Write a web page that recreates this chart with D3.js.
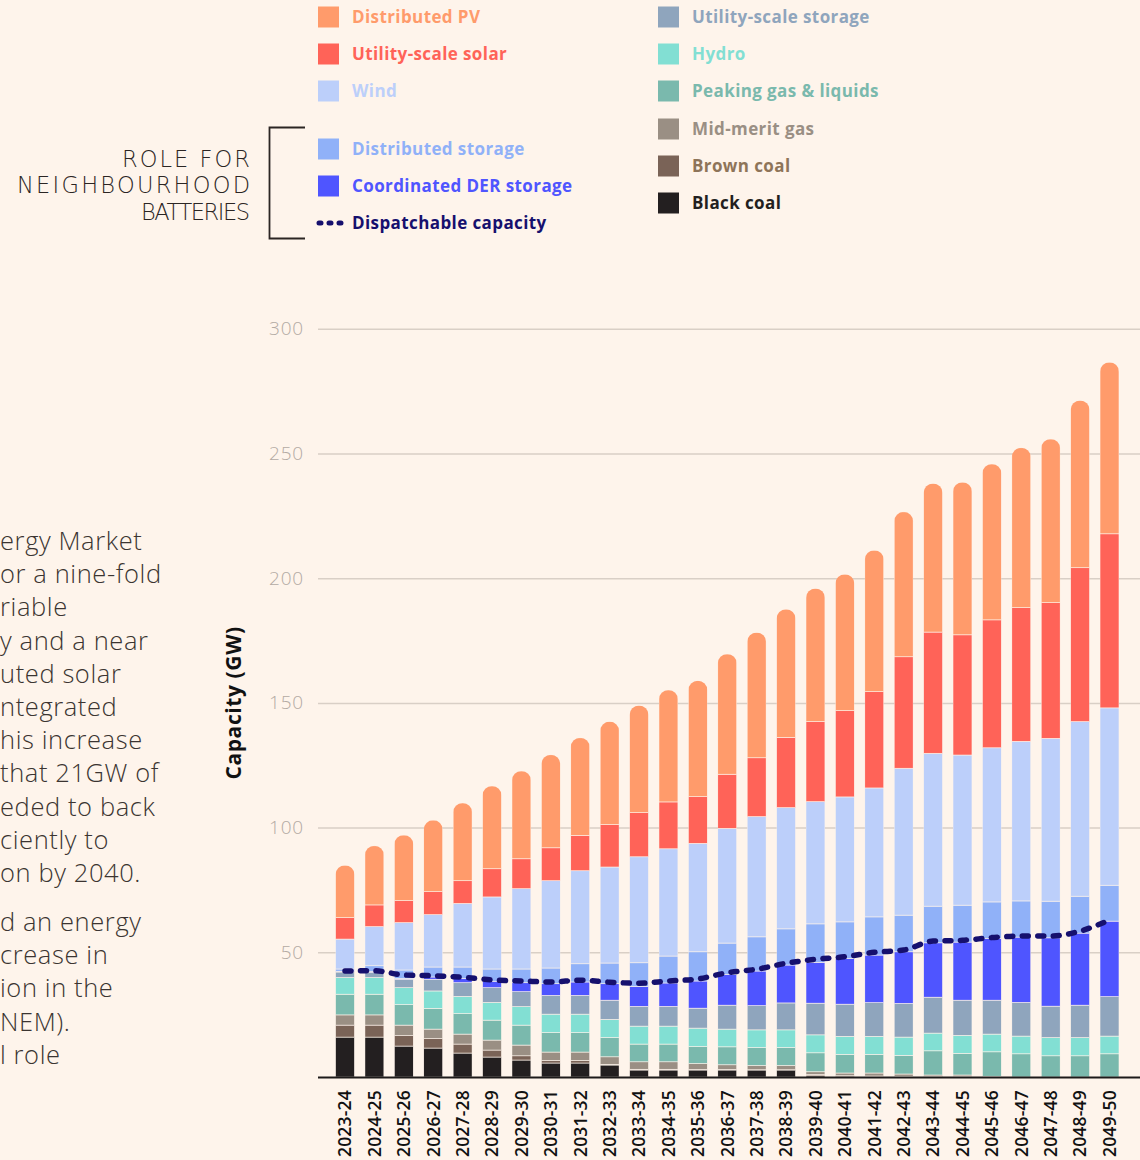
<!DOCTYPE html>
<html>
<head>
<meta charset="utf-8">
<script src="https://cdn.jsdelivr.net/npm/d3@7"></script>
<style>
  body { margin: 0; background: #fef4eb; }
  svg { display: block; }
</style>
</head>
<body>
<svg id="drawing_region"></svg>
<script>
// ---- data (GW) ----
const years = ["2023-24","2024-25","2025-26","2026-27","2027-28","2028-29","2029-30","2030-31","2031-32",
  "2032-33","2033-34","2034-35","2035-36","2036-37","2037-38","2038-39","2039-40","2040-41","2041-42",
  "2042-43","2043-44","2044-45","2045-46","2046-47","2047-48","2048-49","2049-50"];

const blackCoal   = [16.0,16.0,12.4,11.6,9.6,8.0,6.8,5.6,5.6,4.8,2.8,2.8,2.8,2.8,2.8,2.8,0.5,0.1,0.1,0.1,0.1,0.1,0,0,0,0,0];
const brownCoal   = [4.8,4.8,4.2,3.8,3.6,2.8,1.7,1.1,1.1,0.3,0.3,0.3,0.2,0.2,0.1,0.1,0.5,0.4,0.3,0.2,0.1,0.1,0,0,0,0,0];
const midMerit    = [4.1,4.1,4.2,3.8,4.0,4.0,4.3,3.3,3.3,3.0,3.0,3.0,2.4,1.9,1.7,1.7,1.1,1.1,1.2,0.9,0.6,0.6,0.3,0,0,0,0];
const peakingGas  = [8.3,8.3,8.2,8.3,8.2,8.0,8.0,7.8,7.8,7.7,7.1,7.1,6.8,7.2,7.2,7.2,7.6,7.5,7.5,7.5,9.7,8.7,9.8,9.3,8.5,8.5,9.3];
const hydro       = [6.7,6.7,6.8,7.0,6.9,7.1,7.4,7.4,7.4,7.3,7.2,7.2,7.4,7.1,7.1,7.1,7.2,7.2,7.2,7.3,7.1,7.2,7.1,7.1,7.3,7.3,7.1];
const utilStorage = [2.2,2.1,3.4,4.7,5.5,5.9,6.0,7.5,7.5,7.7,7.9,7.9,8.0,9.6,9.7,10.8,12.7,12.9,13.5,13.5,14.4,14.1,13.6,13.5,12.6,13.0,15.8];
const coordDER    = [0.3,0.3,0.3,0.9,1.7,2.6,3.6,4.7,5.4,6.6,8.0,9.4,10.9,12.3,13.9,15.2,16.4,18.3,19.1,20.7,21.8,23.3,24.7,26.2,27.4,28.9,30.3];
const distStorage = [0.9,2.3,3.4,4.0,4.6,4.9,5.5,6.3,7.3,8.3,9.5,10.8,11.7,12.6,13.7,14.5,15.4,14.7,15.3,14.7,14.7,14.8,14.7,14.5,14.7,14.8,14.4];
const wind        = [12.0,15.7,19.0,21.0,25.5,28.9,32.2,35.0,37.3,38.5,42.5,43.0,43.5,46.0,48.2,48.6,49.0,50.1,51.7,58.9,61.3,60.2,61.8,64.0,65.3,70.0,71.1];
const utilSolar   = [8.6,8.7,8.8,9.2,9.1,11.3,12.0,13.2,14.2,17.0,17.7,18.8,18.7,21.7,23.6,28.2,32.1,34.6,38.6,44.7,48.6,48.2,51.3,53.6,54.4,61.7,69.8];
const distPV      = [21.0,23.7,26.3,28.7,31.2,33.2,35.2,37.3,39.1,41.3,43.0,44.9,46.5,48.2,50.2,51.4,53.4,54.7,56.7,58.1,59.6,61.2,62.5,64.1,65.6,67.1,68.8];
const dispatchable = [42.5,42.6,40.9,40.6,40.0,38.9,38.5,38.1,38.8,38.0,37.6,38.5,39.3,41.8,43.2,45.6,47.2,48.2,50.0,50.9,54.5,54.8,55.9,56.5,56.5,58.5,62.9];

const yTicks = [50, 100, 150, 200, 250, 300];

const seriesKeys = ["blackCoal","brownCoal","midMerit","peakingGas","hydro","utilStorage","coordDER","distStorage","wind","utilSolar","distPV"];
const seriesValues = { blackCoal, brownCoal, midMerit, peakingGas, hydro, utilStorage, coordDER, distStorage, wind, utilSolar, distPV };

const legendLeft  = [["distPV","Distributed PV"],["utilSolar","Utility-scale solar"],["wind","Wind"],
                     ["distStorage","Distributed storage"],["coordDER","Coordinated DER storage"],["dispatchable","Dispatchable capacity"]];
const legendRight = [["utilStorage","Utility-scale storage"],["hydro","Hydro"],["peakingGas","Peaking gas & liquids"],
                     ["midMerit","Mid-merit gas"],["brownCoal","Brown coal"],["blackCoal","Black coal"]];

const roleLines = ["ROLE FOR", "NEIGHBOURHOOD", "BATTERIES"];
const bodyLines1 = ["ergy Market","or a nine-fold","riable","y and a near","uted solar","ntegrated",
                    "his increase","that 21GW of","eded to back","ciently to","on by 2040."];
const bodyLines2 = ["d an energy","crease in","ion in the","NEM).","l role"];

// ---- styles ----
const colors = {
  blackCoal: "#231f20", brownCoal: "#7a6357", midMerit: "#9a8f84", peakingGas: "#7ab9ad",
  hydro: "#82dfd3", utilStorage: "#8fa5bd", coordDER: "#4f55ff", distStorage: "#90b1f8",
  wind: "#bccffa", utilSolar: "#ff6358", distPV: "#ff9b6b", dispatchable: "#16106e"
};
const textColors = Object.assign({}, colors, { brownCoal: "#8e7459" });
const bg = "#fef4eb";
const font = "'Open Sans', 'DejaVu Sans', sans-serif";

const width = 1140, height = 1160;
const svg = d3.select('#drawing_region').attr('width', width).attr('height', height);
svg.append('rect').attr('width', width).attr('height', height).attr('fill', bg);

const data = years.map((yr, i) => {
  const d = { year: yr };
  seriesKeys.forEach(k => d[k] = seriesValues[k][i]);
  return d;
});
const stacked = d3.stack().keys(seriesKeys)(data);

const x = d3.scaleBand().domain(years).range([335.5, 1119]).paddingInner(0.354).paddingOuter(0);
const y = d3.scaleLinear().domain([0, 300]).range([1077, 328.8]);

// y grid + labels
const gridLeft = 318;
const yAxisG = svg.append('g')
  .attr('transform', `translate(${gridLeft},0)`)
  .call(d3.axisLeft(y).tickValues(yTicks).tickSize(-(width - gridLeft)).tickPadding(14));
yAxisG.select('.domain').remove();
yAxisG.selectAll('line').attr('stroke', '#d9cfc6').attr('stroke-width', 1.5);
yAxisG.selectAll('text')
  .attr('fill', '#b3aaa3')
  .style('font-family', font).style('font-size', '19px').style('font-weight', 300)
  .style('letter-spacing', '0.8px');

// y title
svg.append('text')
  .attr('transform', `translate(234,${(y(0) + y(300)) / 2}) rotate(-90)`)
  .attr('text-anchor', 'middle').attr('dy', '0.35em')
  .style('font-family', font).style('font-size', '21px').style('font-weight', 700)
  .style('letter-spacing', '0.6px')
  .attr('fill', '#111')
  .text('Capacity (GW)');

// bars with rounded tops
const defs = svg.append('defs');
data.forEach((d, i) => {
  const total = d3.sum(seriesKeys, k => d[k]);
  defs.append('clipPath').attr('id', 'clip' + i)
    .append('rect')
    .attr('x', x(d.year)).attr('y', y(total))
    .attr('width', x.bandwidth()).attr('height', y(0) - y(total) + 20)
    .attr('rx', x.bandwidth() / 2);
});

const barG = svg.append('g').selectAll('g').data(data).join('g')
  .attr('clip-path', (d, i) => `url(#clip${i})`);

barG.selectAll('rect')
  .data((d, i) => stacked.map(layer => ({ key: layer.key, year: d.year, v0: layer[i][0], v1: layer[i][1] })))
  .join('rect')
  .attr('x', d => x(d.year))
  .attr('y', d => y(d.v1))
  .attr('width', x.bandwidth())
  .attr('height', d => Math.max(0, y(d.v0) - y(d.v1)))
  .attr('fill', d => colors[d.key])
  .attr('stroke', bg).attr('stroke-width', 0.6);

// baseline
svg.append('line')
  .attr('x1', gridLeft).attr('x2', width)
  .attr('y1', y(0) + 0.5).attr('y2', y(0) + 0.5)
  .attr('stroke', '#1d1a1a').attr('stroke-width', 2);

// x labels
const xAxisG = svg.append('g')
  .attr('transform', `translate(0,${y(0)})`)
  .call(d3.axisBottom(x).tickSize(0));
xAxisG.select('.domain').remove();
xAxisG.selectAll('text')
  .attr('transform', 'rotate(-90)')
  .attr('x', -13).attr('y', 0).attr('dy', '0.36em')
  .attr('text-anchor', 'end')
  .attr('fill', '#111')
  .style('font-family', font).style('font-size', '17.5px').style('font-weight', 600)
  .style('letter-spacing', '0.2px');

// dispatchable capacity line
const line = d3.line()
  .x((d, i) => x(years[i]) + x.bandwidth() / 2)
  .y(d => y(d))
  .curve(d3.curveMonotoneX);
svg.append('path')
  .attr('d', line(dispatchable))
  .attr('fill', 'none')
  .attr('stroke', colors.dispatchable)
  .attr('stroke-width', 5.5)
  .attr('stroke-linecap', 'round')
  .attr('stroke-dasharray', '6 9.5');

// legend
function drawLegend(items, x0, rows) {
  items.forEach(([key, label], i) => {
    const cy = rows[i];
    if (key === 'dispatchable') {
      svg.append('line')
        .attr('x1', x0 + 1).attr('x2', x0 + 23).attr('y1', cy).attr('y2', cy)
        .attr('stroke', colors[key]).attr('stroke-width', 5)
        .attr('stroke-linecap', 'round').attr('stroke-dasharray', '2 8');
    } else {
      svg.append('rect')
        .attr('x', x0).attr('y', cy - 10.5).attr('width', 21).attr('height', 21)
        .attr('fill', colors[key]);
    }
    svg.append('text')
      .attr('x', x0 + 34).attr('y', cy).attr('dy', '0.35em')
      .attr('fill', textColors[key])
      .style('font-family', font).style('font-size', '17px').style('font-weight', 700)
      .style('letter-spacing', '0.4px')
      .text(label);
  });
}
drawLegend(legendLeft, 318, [17, 54, 91, 149, 186, 223]);
drawLegend(legendRight, 658, [17, 54, 91, 129, 166, 203]);

// bracket + role label
svg.append('path')
  .attr('d', 'M305,127.5 H269.5 V238.5 H305')
  .attr('fill', 'none').attr('stroke', '#2b2523').attr('stroke-width', 1.8);
const roleWidths = [128, 233, 109];
svg.append('g').selectAll('text').data(roleLines).join('text')
  .attr('x', 250).attr('y', (d, i) => 166.5 + i * 26.5)
  .attr('text-anchor', 'end')
  .attr('textLength', (d, i) => roleWidths[i])
  .attr('lengthAdjust', 'spacing')
  .attr('fill', '#2b2523')
  .style('font-family', "'DejaVu Sans', sans-serif").style('font-size', '22.5px').style('font-weight', 200)
  .text(d => d);

// body text (cut at page edge)
function drawBody(lines, top) {
  svg.append('g').selectAll('text').data(lines).join('text')
    .attr('x', 0).attr('y', (d, i) => top + i * 33.2)
    .attr('fill', '#3b3431')
    .style('font-family', font).style('font-size', '25.5px').style('font-weight', 300)
    .style('letter-spacing', '0.6px')
    .text(d => d);
}
drawBody(bodyLines1, 550);
drawBody(bodyLines2, 931);
</script>
</body>
</html>
